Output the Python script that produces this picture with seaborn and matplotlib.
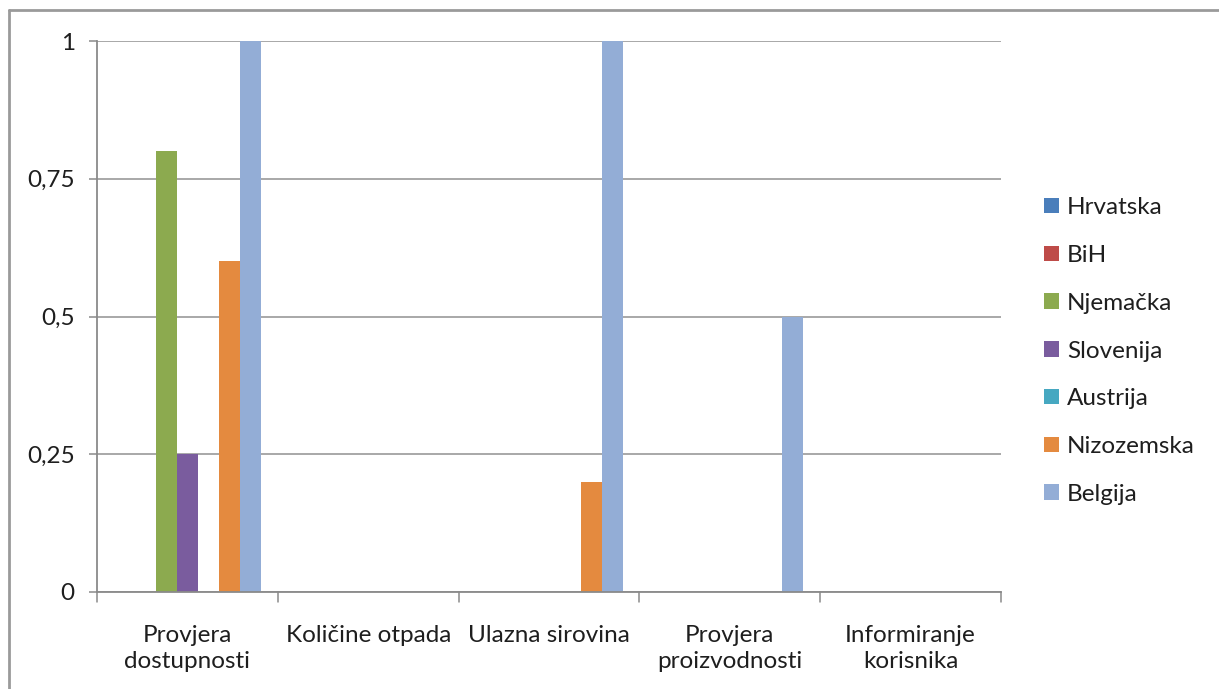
import matplotlib
matplotlib.use("Agg")
import matplotlib.pyplot as plt
import seaborn as sns
import pandas as pd
from matplotlib.lines import Line2D
from matplotlib.patches import Patch

categories = ["Provjera\ndostupnosti", "Količine otpada", "Ulazna sirovina",
              "Provjera\nproizvodnosti", "Informiranje\nkorisnika"]
series = ["Hrvatska", "BiH", "Njemačka", "Slovenija", "Austrija", "Nizozemska", "Belgija"]
hrvatska = [0, 0, 0, 0, 0]
bih = [0, 0, 0, 0, 0]
njemacka = [0.8, 0, 0, 0, 0]
slovenija = [0.25, 0, 0, 0, 0]
austrija = [0, 0, 0, 0, 0]
nizozemska = [0.6, 0, 0.2, 0, 0]
belgija = [1, 0, 1, 0.5, 0]
yticks = [0, 0.25, 0.5, 0.75, 1]
ytick_labels = ["0", "0,25", "0,5", "0,75", "1"]
colors = ["#4A7EBB", "#BE4B48", "#8CAA4F", "#7A5C9E", "#46A8C1", "#E48A3F", "#93ADD6"]

values = [hrvatska, bih, njemacka, slovenija, austrija, nizozemska, belgija]
rows = []
for s, vals in zip(series, values):
    for c, v in zip(categories, vals):
        rows.append({"cat": c, "series": s, "value": v})
df = pd.DataFrame(rows)

sns.set_theme(style="white")
plt.rcParams["font.family"] = ["Lato", "DejaVu Sans"]

fig = plt.figure(figsize=(12.19, 6.89), dpi=100)
ax = fig.add_axes([97/1219, 1-592/689, (1001-97)/1219, (592-41)/689])

sns.barplot(data=df, x="cat", y="value", hue="series", order=categories,
            hue_order=series, palette=colors, width=0.815, ax=ax,
            saturation=1, legend=False, linewidth=0, errorbar=None)

ax.set_ylim(0, 1)
ax.set_xlim(-0.5, len(categories) - 0.5)
ax.set_yticks(yticks)
ax.set_yticklabels(ytick_labels, fontsize=17.5, color="#1e1e1e")
ax.set_xticks(range(len(categories)))
ax.set_xticklabels(categories, fontsize=17.5, color="#1e1e1e", linespacing=1.3)
ax.set_xlabel("")
ax.set_ylabel("")
ax.yaxis.grid(True, color="#9a9a9a", linewidth=1.2)
ax.set_axisbelow(True)
for side in ["top", "right"]:
    ax.spines[side].set_visible(False)
for side in ["left", "bottom"]:
    ax.spines[side].set_color("#8a8a8a")
    ax.spines[side].set_linewidth(1.3)

ax.tick_params(axis="x", length=0, pad=24)
ax.tick_params(axis="y", length=6, width=1.1, color="#8a8a8a", direction="out", pad=10, left=True)
for b in [i - 0.5 for i in range(len(categories) + 1)]:
    ax.plot([b, b], [0, -0.018], color="#8a8a8a", lw=1.1, clip_on=False)

handles = [Patch(facecolor=c, edgecolor="none") for c in colors]
leg = fig.legend(handles, series, loc="center left", bbox_to_anchor=(1044/1219, 1-351/689),
                 frameon=False, fontsize=17.5, handlelength=0.6, handleheight=0.6,
                 handletextpad=0.35, labelspacing=1.1, labelcolor="#1e1e1e",
                 borderaxespad=0, borderpad=0)

fig.add_artist(Line2D([9/1219, 9/1219], [0, 1-10/689], transform=fig.transFigure,
                      color="#9a9a9a", lw=2))
fig.add_artist(Line2D([9/1219, 1], [1-10/689, 1-10/689], transform=fig.transFigure,
                      color="#9a9a9a", lw=2))

fig.savefig("out.png", dpi=100, facecolor="white")
